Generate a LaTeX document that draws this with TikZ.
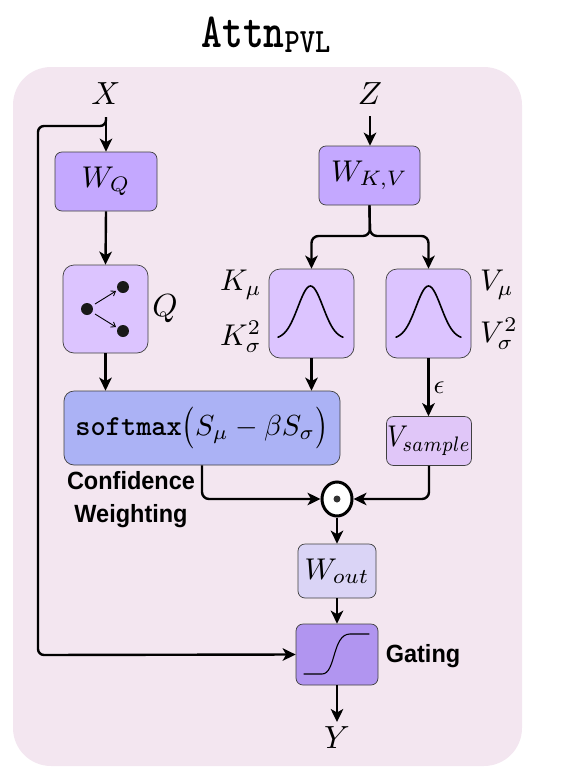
\RequirePackage{fix-cm}
\documentclass[tikz,border=0pt]{standalone}
\usepackage[no-math]{fontspec}
\usepackage{amsmath}
\usepackage{graphicx}
\setmainfont{Liberation Sans}
\usetikzlibrary{arrows.meta,shapes.geometric}
\definecolor{bgc}{HTML}{F3E6F0}
\definecolor{wc}{HTML}{C4A8FF}
\definecolor{dc}{HTML}{DCC4FF}
\definecolor{sc}{HTML}{ABB2F5}
\definecolor{vc}{HTML}{E0C6F8}
\definecolor{oc}{HTML}{DAD4F6}
\definecolor{gc}{HTML}{B195F0}
\newcommand{\mth}[2]{\scalebox{#1}{$#2$}}
\newcommand{\lblfont}{\fontsize{23.5}{31}\selectfont\bfseries}
\tikzset{
  x=1pt,y=-1pt,
  tip/.style={-{Stealth[length=13pt,width=12.5pt,inset=3.5pt]}},
  flow/.style={line width=2.4pt,tip},
  bx/.style={draw=black!75,line width=0.7pt,rounded corners=7pt,inner sep=0pt,anchor=center},
  lab/.style={inner sep=0pt,text=black},
  note/.style={inner sep=0pt,font=\lblfont,align=center,yscale=1.06},
  curve/.style={line width=1.6pt,line cap=round}
}
\begin{document}
\begin{tikzpicture}
\useasboundingbox (0,0) rectangle (564,772);
\fill[bgc,rounded corners=38pt] (13,67) rectangle (522,766);
\node[lab] (title) at (266,35) {\scalebox{3.95}[4.9]{\texttt{\textbf{Attn}}}\raisebox{-5pt}{\scalebox{2.9}[3.4]{\texttt{\textbf{PVL}}}}};
\node[lab] (x) at (106,94) {\mth{3.2}{X}};
\node[lab] (z) at (370,94) {\mth{3.2}{Z}};
\node[lab] (y) at (337,738) {\mth{3.2}{Y}};
\node[bx,fill=wc,minimum width=102pt,minimum height=59pt] (wq) at (106,181.5) {\mth{3.0}{W_Q}};
\node[bx,fill=wc,minimum width=101pt,minimum height=59pt] (wkv) at (369.5,175.5) {\mth{3.0}{W_{K,V}}};
\node[bx,fill=dc,minimum width=85pt,minimum height=88pt,rounded corners=11pt] (qb) at (105.5,309) {};
\node[bx,fill=dc,minimum width=85pt,minimum height=89pt,rounded corners=11pt] (kb) at (311.5,313.5) {};
\node[bx,fill=dc,minimum width=85pt,minimum height=89pt,rounded corners=11pt] (vb) at (428.5,313.5) {};
\node[bx,fill=sc,minimum width=276pt,minimum height=74pt,rounded corners=10pt] (sm) at (202,428) {\mth{2.9}{\text{\texttt{\textbf{softmax}}}\mathopen{\vcenter{\hbox{\scalebox{1}[1.2]{$\bigl($}}}}S_\mu-\beta S_\sigma\mathclose{\vcenter{\hbox{\scalebox{1}[1.2]{$\bigr)$}}}}}};
\node[bx,fill=vc,minimum width=85pt,minimum height=49pt] (vs) at (429,441) {\scalebox{2.62}[3.0]{$V_{sample}$}};
\node[draw=black,line width=3pt,fill=white,ellipse,minimum width=30pt,minimum height=34pt,inner sep=0pt] (dot) at (337,499) {};
\node[circle,fill=black!80,minimum size=7pt,inner sep=0pt] (dotc) at (dot.center) {};
\node[bx,fill=oc,minimum width=78pt,minimum height=54pt] (wo) at (337,571) {\mth{3.0}{W_{out}}};
\node[bx,fill=gc,minimum width=82pt,minimum height=61pt] (gate) at (337,654.5) {};
\node[lab] (q) at (165,309) {\mth{3.2}{Q}};
\node[lab,anchor=east] (km) at (262,285) {\mth{3.0}{K_\mu}};
\node[lab,anchor=east] (ks) at (262,337) {\mth{3.0}{K_\sigma^2}};
\node[lab,anchor=west] (vm) at (480,285) {\mth{3.0}{V_\mu}};
\node[lab,anchor=west] (vs2) at (480,334) {\mth{3.0}{V_\sigma^2}};
\node[note] (conf) at (131,499.5) {Confidence\\Weighting};
\node[note] (gat) at (423,656) {Gating};
\coordinate (xt) at (106,117);
\coordinate (xj) at (106,126);
\coordinate (zt) at (370,116);
\coordinate (br) at (370,236);
\draw[flow] (xt) -- (wq.north);
\draw[flow,rounded corners=6pt] (xt) -- (xj) -- (38,126) -- (38,655) -- (gate.west);
\draw[flow] (wq.south) -- (qb.north);
\draw[flow] (qb.south) -- (qb.south |- sm.north);
\draw[flow] (zt) -- (zt |- wkv.north);
\draw[flow,rounded corners=7pt] (wkv.south) -- (br) -- (kb.north |- br) -- (kb.north);
\draw[flow,rounded corners=7pt] (wkv.south) -- (br) -- (vb.north |- br) -- (vb.north);
\draw[flow] (kb.south) -- (kb.south |- sm.north);
\draw[flow] (vb.south) -- node[right=4pt,inner sep=0pt] (eps) {\mth{2.7}{\epsilon}} (vb.south |- vs.north);
\draw[flow,rounded corners=7pt] (sm.south) -- (sm.south |- dot.west) -- (dot.west);
\draw[flow,rounded corners=7pt] (vs.south) -- (vs.south |- dot.east) -- (dot.east);
\draw[flow] (dot.south) -- (wo.north);
\draw[flow] (wo.south) -- (gate.north);
\draw[flow] (gate.south) -- (337,722);
% scatter icon
\fill[black!90] (87,309) circle (6pt) (123,287) circle (6pt) (123,331) circle (6pt);
\draw[line width=0.9pt,-{Straight Barb[length=4pt,width=6pt]}] (95,304) -- (116,291);
\draw[line width=0.9pt,-{Straight Barb[length=4pt,width=6pt]}] (95,314) -- (116,327);
% gaussians
\draw[curve,smooth] plot[domain=-32.5:32.5,samples=41] (\x+310.5,{339-53*exp(-(\x*\x)/(2*12.5*12.5))});
\draw[curve,smooth] plot[domain=-32.5:32.5,samples=41] (\x+428.5,{339-53*exp(-(\x*\x)/(2*12.5*12.5))});
% sigmoid
\draw[line width=1.1pt,line cap=round] (304,674) -- (322,674) .. controls (336,674) and (332,634) .. (350,634) -- (369,634);
\end{tikzpicture}
\end{document}
